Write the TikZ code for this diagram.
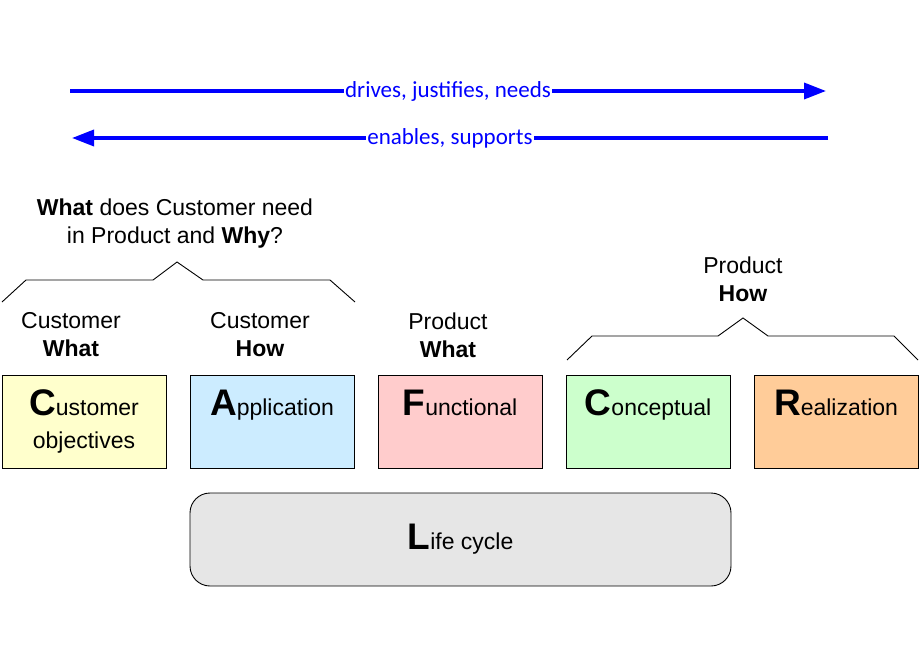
\documentclass[tikz,border=0pt]{standalone}
\usepackage{fontspec}
\setmainfont{Liberation Sans}
\newfontfamily\calib{Carlito}
\usetikzlibrary{arrows.meta,positioning}
\definecolor{flowblue}{RGB}{0,0,255}
\definecolor{custyellow}{RGB}{255,255,204}
\definecolor{appblue}{RGB}{204,236,255}
\definecolor{funcpink}{RGB}{255,204,204}
\definecolor{concgreen}{RGB}{204,255,204}
\definecolor{realorange}{RGB}{255,204,153}
\definecolor{lifegray}{RGB}{230,230,230}
\newcommand{\firstltr}[1]{{\fontsize{37}{37}\selectfont\bfseries #1}}

\begin{document}
\begin{tikzpicture}[x=1pt,y=-1pt,
  view/.style={draw=black,line width=0.9pt,minimum width=164pt,minimum height=93pt,
    inner sep=0pt,outer sep=0pt,align=center,font=\fontsize{23}{33}\selectfont},
  tag/.style={align=center,inner sep=0pt,font=\fontsize{23}{28}\selectfont},
  flow/.style={flowblue,line width=3.5pt,-{Triangle[length=22pt,width=16pt]}},
  flowlbl/.style={fill=white,inner sep=1pt,text=flowblue,font=\calib\fontsize{23}{28}\selectfont},
  brace/.style={line width=0.9pt}]
  \useasboundingbox (0,0) rectangle (920,660);
  % relation arrows
  \coordinate (drvL) at (70,91);
  \coordinate (drvR) at (826,91);
  \draw[flow] (drvL) -- (drvR) node[flowlbl,midway] (drvlbl) {drives, justifies, needs};
  \coordinate (enbR) at (828,138);
  \coordinate (enbL) at (72,138);
  \draw[flow] (enbR) -- (enbL) node[flowlbl,midway] (enblbl) {enables, supports};
  % the five views
  \node[view,fill=custyellow] (cust) at (84,421.5) {\firstltr{C}ustomer\\objectives};
  \node[view,fill=appblue,right=24pt of cust] (appl) {\firstltr{A}pplication\\\phantom{objectives}};
  \node[view,fill=funcpink,right=24pt of appl] (func) {\firstltr{F}unctional\\\phantom{objectives}};
  \node[view,fill=concgreen,right=24pt of func] (conc) {\firstltr{C}onceptual\\\phantom{objectives}};
  \node[view,fill=realorange,right=24pt of conc] (real) {\firstltr{R}ealization\\\phantom{objectives}};
  \node[view,fill=lifegray,rounded corners=20pt,minimum width=541pt] (life) at (460.5,539.5) {\firstltr{L}ife cycle};
  % labels over the views
  \node[tag] (custwhat) at (71,335) {Customer\\\textbf{What}};
  \node[tag] (custhow) at (260,335) {Customer\\\textbf{How}};
  \node[tag] (prodwhat) at (448,335) {Product\\\textbf{What}};
  \node[tag] (prodhow) at (743,279) {Product\\\textbf{How}};
  \node[tag] (whywhat) at (175,224) {\textbf{What} does Customer need\\in Product and \textbf{Why}?};
  % braces
  \draw[brace] (2,302) -- (26,280) -- (153,280) -- (177,262) -- (203,280) -- (330,280) -- (355,302);
  \draw[brace] (567,360) -- (592,336) -- (718,336) -- (743,318) -- (768,336) -- (894,336) -- (918,360);
\end{tikzpicture}
\end{document}
